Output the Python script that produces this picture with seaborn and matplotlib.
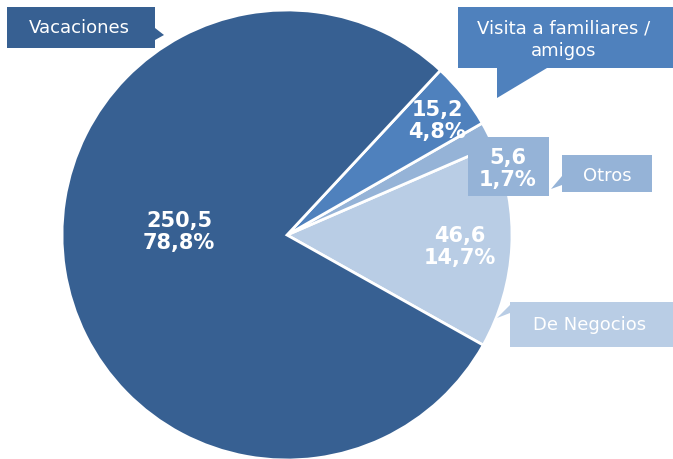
import matplotlib
matplotlib.use("Agg")
import matplotlib.pyplot as plt
from matplotlib.patches import Polygon
import seaborn as sns

# Data (counterclockwise order starting at lower right)
categories = ["De Negocios", "Otros", "Visita a familiares /\namigos", "Vacaciones"]
values = [46.6, 5.6, 15.2, 250.5]
percents = ["14,7%", "1,7%", "4,8%", "78,8%"]
value_labels = ["46,6", "5,6", "15,2", "250,5"]
colors = ["#B9CDE5", "#95B3D7", "#4F81BD", "#376092"]

sns.set_theme(style="white")
plt.rcParams['font.family'] = ['DejaVu Sans']
palette = sns.color_palette(colors)

W, H = 673, 459
fig = plt.figure(figsize=(W / 100, H / 100), dpi=100)
ax = fig.add_axes([0, 0, 1, 1])

cx, cy, r = 287, 235, 225
ax.pie(values, colors=palette, startangle=-29.3, counterclock=True,
       center=(cx, H - cy), radius=r,
       wedgeprops=dict(edgecolor="white", linewidth=2))
ax.set_xlim(0, W)
ax.set_ylim(0, H)
ax.set_aspect("equal")
ax.axis("off")


def poly(points, color):
    ax.add_patch(Polygon([(x, H - y) for x, y in points], closed=True,
                         facecolor=color, edgecolor="none", zorder=5))


def txt(x, y, s, size=13, bold=False, ls=1.15):
    ax.text(x, H - y, s, ha="center", va="center", color="white",
            fontsize=size, fontweight="bold" if bold else "normal",
            linespacing=ls, zorder=6)


# Callout boxes
# Vacaciones
poly([(7, 7), (155, 7), (155, 28), (164, 35), (155, 40), (155, 48), (7, 48)], colors[3])
txt(79, 28, categories[3])
# Visita
poly([(458, 7), (673, 7), (673, 68), (547, 68), (497, 98), (497, 68), (458, 68)], colors[2])
txt(564, 40, categories[2], ls=1.3)
# Otros value box
poly([(468, 137), (549, 137), (549, 196), (468, 196)], colors[1])
# Otros label
poly([(562, 155), (652, 155), (652, 192), (562, 192), (562, 185), (551, 189), (562, 176)], colors[1])
txt(607, 176, categories[1])
# Negocios
poly([(510, 302), (673, 302), (673, 347), (510, 347), (510, 313), (497, 318), (510, 305)], colors[0])
txt(590, 325, categories[0])

# Value labels
pos = [(460, 247), (508, 169), (437, 121), (179, 232)]
for (x, y), v, p in zip(pos, value_labels, percents):
    txt(x, y, f"{v}\n{p}", size=15, bold=True, ls=1.1)

fig.savefig("out.png", dpi=100)
